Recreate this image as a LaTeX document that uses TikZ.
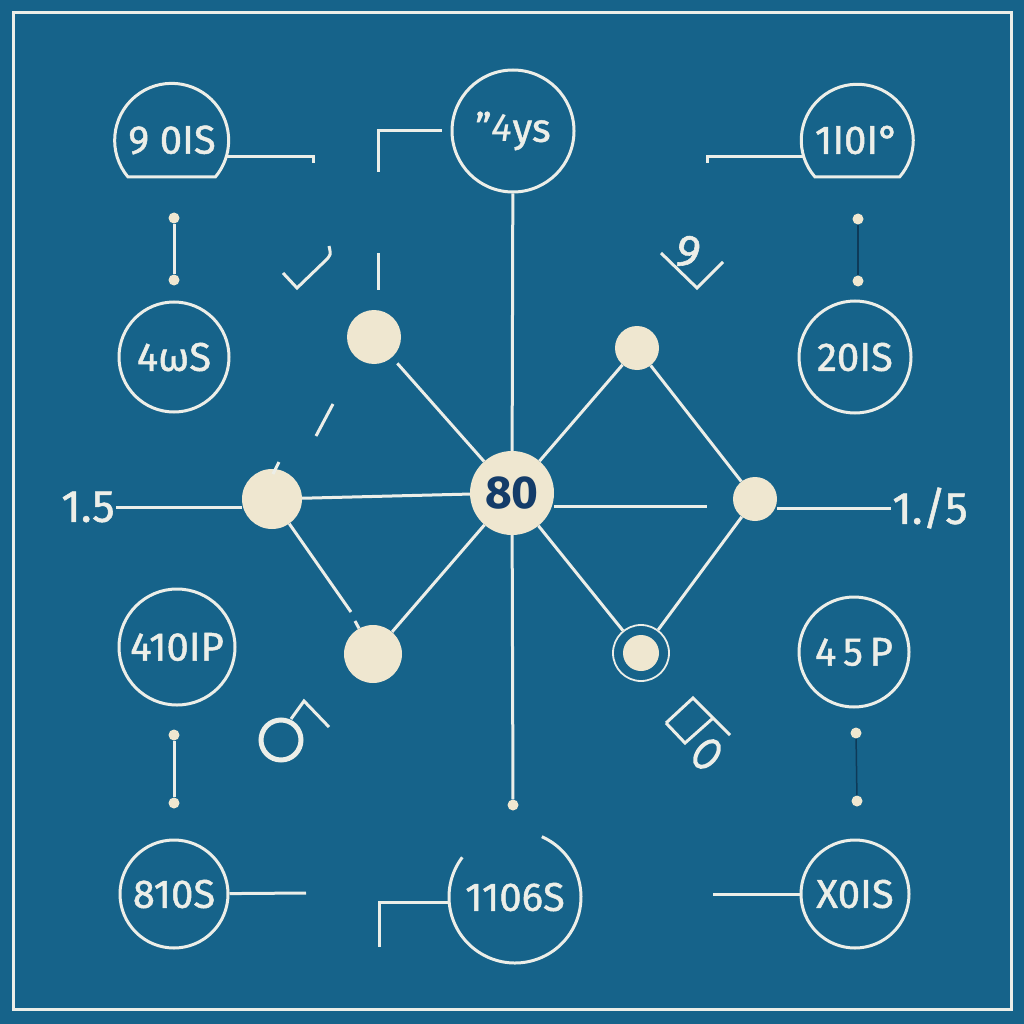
\documentclass[tikz,border=0pt]{standalone}
\usepackage{fontspec}
\setmainfont{Fira Sans}[UprightFeatures={FakeBold=1.2}]
\definecolor{bg}{RGB}{22,99,138}
\definecolor{ink}{RGB}{236,238,232}
\definecolor{cream}{RGB}{239,231,208}
\definecolor{navy}{RGB}{20,60,105}
\definecolor{deep}{RGB}{14,58,88}
\begin{document}
\begin{tikzpicture}[
    x=1pt,y=-1pt,
    wire/.style={draw=ink,line width=3pt},
    dark/.style={draw=deep,line width=1.5pt},
    ring/.style={draw=ink,line width=3pt,circle,inner sep=0pt,minimum size=#1,
      text=ink,font=\fontsize{40}{42}\selectfont},
    hole/.style={circle,inner sep=0pt,minimum size=#1,
      text=ink,font=\fontsize{40}{42}\selectfont},
    dotn/.style={circle,fill=cream,inner sep=0pt,minimum size=#1},
    knob/.style={circle,fill=cream,inner sep=0pt,minimum size=11},
    numtxt/.style={text=ink,inner sep=1pt,font=\fontsize{45}{48}\selectfont}]
 \fill[bg] (0,0) rectangle (1024,1024);
 \useasboundingbox (0,0) rectangle (1024,1024);
 \draw[wire] (13,13) rectangle (1011,1009);

 \node[hole=110] (n9) at (172,140) {9 0IS};
 \draw[wire] (n9.center) ++(-44,37) arc[start angle=140,end angle=400,radius=57] -- cycle;
 \node[ring=110] (n4w) at (174,357) {4ωS};
 \node[ring=116] (n410) at (177,647) {410IP};
 \node[ring=108] (n810) at (174,894) {810S};
 \node[ring=122] (nys) at (513,131) {”\textit{4}ys};
 \node[hole=132] (n1106) at (515,897) {1106S};
 \draw[wire] (n1106.center) ++(217:66) arc[start angle=217,end angle=-66,radius=66];
 \node[hole=108] (n110) at (857,140) {1I0I°};
 \draw[wire] (n110.center) ++(-42,37) arc[start angle=139,end angle=401,radius=56] -- cycle;
 \node[ring=112] (n20) at (855,357) {20IS};
 \node[ring=110] (n45) at (854,652) {4\,5\,P};
 \node[ring=108] (nX) at (855,894) {X0IS};

 \node[dotn=84,text=navy,font=\fontsize{46}{48}\selectfont\bfseries] (n80) at (512,493) {80};
 \node[dotn=60] (nBL) at (272,499) {};
 \node[dotn=54] (nUL) at (374,337) {};
 \node[dotn=58] (nLL) at (373,654) {};
 \node[dotn=44] (nUR) at (637,348) {};
 \node[dotn=44] (nR) at (755,499) {};
 \node[dotn=36] (nLR) at (641,653) {};
 \node[circle,draw=ink,line width=1.8pt,inner sep=0pt,minimum size=56] (nLRo) at (nLR) {};

 \node[numtxt] (l15) at (88,507) {1.5};
 \node[numtxt] (l15r) at (930,508) {1./5};

 \node[knob] (k1) at (174,218) {};
 \node[knob] (k2) at (174,280) {};
 \node[knob] (k3) at (174,735) {};
 \node[knob] (k4) at (174,803) {};
 \node[knob] (k5) at (858,219) {};
 \node[knob] (k6) at (858,281) {};
 \node[knob] (k7) at (856,733) {};
 \node[knob] (k8) at (857,801) {};
 \node[knob] (k9) at (513,805) {};

 \coordinate (e9) at (313,157);
 \coordinate (e110) at (707,157);
 \coordinate (bT) at (378,131);
 \coordinate (bB) at (379,902);
 \coordinate (e810) at (306,893);
 \coordinate (eX) at (713,894);
 \coordinate (rgap) at (707,506);
 \coordinate (g1) at (351,612);
 \coordinate (g2) at (355,621);

 \draw[wire] (k1) -- (k2);
 \draw[wire] (k3) -- (k4);
 \draw[dark] (k5) -- (k6);
 \draw[dark] (k7) -- (k8);
 \draw[wire] (nys) -- (n80) -- (k9);
 \draw[wire] (nBL) -- (n80);
 \draw[wire] (l15.east) -- (l15.east -| nBL.west);
 \draw[wire] (nR.east |- l15r) -- (l15r.west);
 \draw[wire] (n80.east |- rgap) -- (rgap);
 \draw[wire,shorten <=8pt] (nUL) -- (n80);
 \draw[wire] (n80) -- (nUR) -- (nR) -- (nLRo) -- (n80);
 \draw[wire] (n80) -- (nLL);
 \draw[wire] (nBL) -- (g1);
 \draw[wire] (g2) -- (nLL);
 \draw[wire] (e9 -| n9.east) -- (e9) -- ++(0,6);
 \draw[wire] (e110 -| n110.west) -- (e110) -- ++(0,6);
 \draw[wire] ([xshift=-9pt]nys.west) -- (bT) -- ++(0,41);
 \draw[wire] ([yshift=-5pt]n1106.west) -- (bB) -- ++(0,45);
 \draw[wire] (n810) -- (e810);
 \draw[wire] (eX) -- (nX);

 \draw[wire] (378,253) -- (378,290);
 \draw[wire] (333,404) -- (316,436);
 \draw[wire] (279,462) -- (273,474);
 \draw[wire] (283,273) -- (297,288) -- (325,261) .. controls (331,255) .. (329,246);
 \draw[wire] (661,253) -- (697,288) -- (723,262);
 \node[text=ink,font=\fontsize{46}{46}\selectfont,rotate=-15] (g9) at (688,252) {9};
 \draw[draw=ink,line width=5pt] (281,740) circle[radius=20];
 \draw[wire] (291,719) -- (304,701) -- (329,727);
 \draw[wire] (666,723) -- (693,698) -- (730,735) (666,723) -- (685,743) -- (712,719);
 \draw[draw=ink,line width=4pt,rotate around={-40:(707,754)}] (707,754) ellipse[x radius=9,y radius=15];
\end{tikzpicture}
\end{document}
